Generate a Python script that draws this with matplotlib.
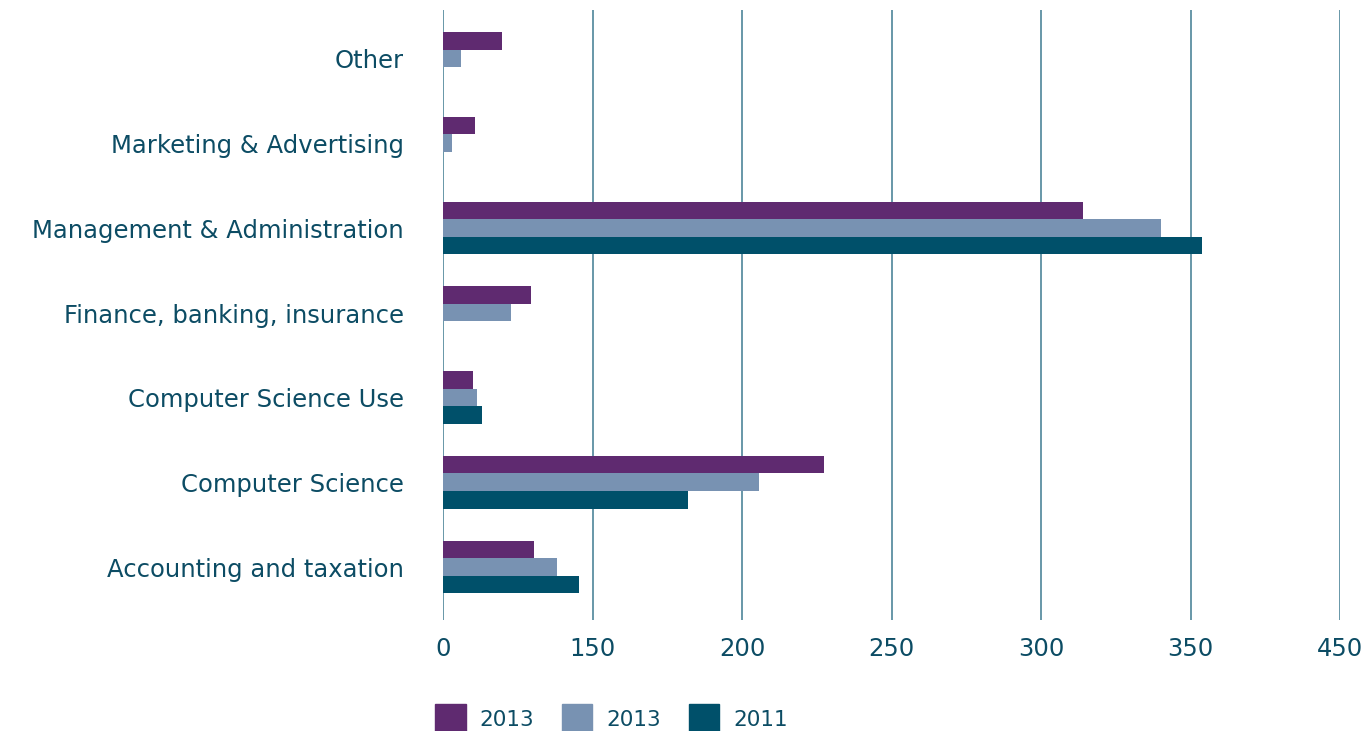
import matplotlib
matplotlib.use('Agg')
import matplotlib.pyplot as plt
import matplotlib.transforms as mtransforms
from matplotlib.patches import Patch
import numpy as np

# categories listed bottom to top
CATS = ['Accounting and taxation', 'Computer Science', 'Computer Science Use',
        'Finance, banking, insurance', 'Management & Administration',
        'Marketing & Advertising', 'Other']
S1_2013 = [45.6, 191, 15, 44, 321, 16, 29.6]
S2_2013 = [57, 158.5, 17, 34, 360, 4.5, 9]
S3_2011 = [68, 123, 19.6, 0, 381, 0, 0]
SERIES = ['2013', '2013', '2011']
TICKS = [0, 75, 150, 225, 300, 375, 450]
TICK_LABELS = ['0', '150', '200', '250', '300', '350', '450']

COLORS = ['#5f2a70', '#7892b2', '#00506a']
TXT = '#0c4c64'

plt.rcParams['font.family'] = ['DejaVu Sans']

fig = plt.figure(figsize=(13.63, 7.31), dpi=100)
ax = fig.add_axes([443/1363, 1-620/731, (1340-443)/1363, (620-10)/731])

y = np.arange(len(CATS))
h = 0.207
for i, vals in enumerate([S1_2013, S2_2013, S3_2011]):
    ax.barh(y + (1 - i)*h, vals, height=h, color=COLORS[i], zorder=3)

ax.set_xlim(0, 450)
ax.set_ylim(-0.625, 6.57)
ax.set_xticks(TICKS)
ax.set_xticklabels(TICK_LABELS, fontsize=17.5)
ax.set_yticks(y)
ax.set_yticklabels(CATS, fontsize=17.5, va='center')
ax.tick_params(axis='both', length=0, colors=TXT)
ax.tick_params(axis='y', pad=28)
ax.tick_params(axis='x', pad=12)
# nudge category labels slightly downward like the original
shift = mtransforms.ScaledTranslation(0, -3/100, fig.dpi_scale_trans)
for lab in ax.get_yticklabels():
    lab.set_transform(lab.get_transform() + shift)
for s in ax.spines.values():
    s.set_visible(False)
ax.grid(axis='x', color='#3f7b91', lw=1.1, zorder=1)
ax.grid(axis='y', visible=False)

handles = [Patch(color=c) for c in COLORS]
fig.legend(handles, SERIES, loc='lower left', bbox_to_anchor=(416/1363, -0.03),
           ncol=3, frameon=False, fontsize=15.5, labelcolor=TXT,
           handlelength=1.4, handleheight=1.75, handletextpad=0.65, columnspacing=1.3)

fig.savefig('out.png', dpi=100)
